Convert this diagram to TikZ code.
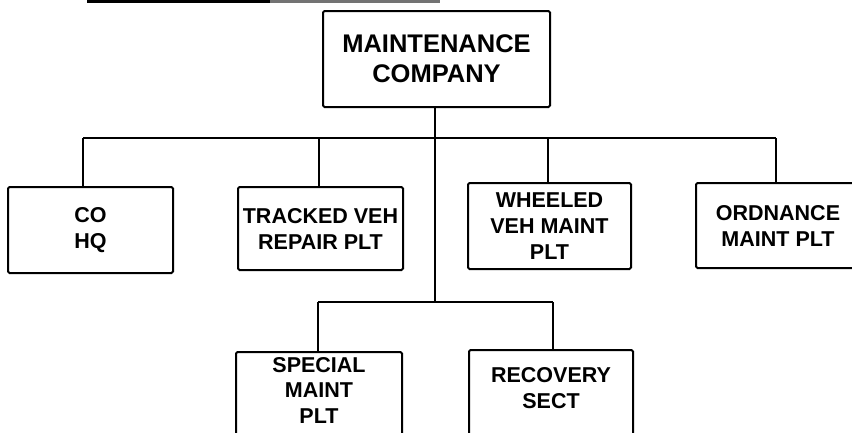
\documentclass[tikz,border=0pt]{standalone}
\usepackage{fontspec}
\setmainfont{Liberation Sans}
\begin{document}
\begin{tikzpicture}[x=1pt,y=1pt,
  box/.style={draw=black, line width=2pt, rounded corners=1.5pt, inner sep=0pt, align=center,
    font=\bfseries\fontsize{21.5}{26}\selectfont},
  bigbox/.style={box, font=\bfseries\fontsize{25.5}{30}\selectfont},
  lbl/.style={inner sep=0pt, align=center, font=\bfseries\fontsize{21.5}{25.5}\selectfont},
  conn/.style={draw=black, line width=1.6pt}]
\useasboundingbox (0,0) rectangle (852,-432);
\clip (0,0) rectangle (852,-432);
% partial bar at top edge
\coordinate (tb1) at (87,-1.5);
\coordinate (tb2) at (270,-1.5);
\coordinate (tb3) at (440,-1.5);
\draw[line width=3pt] (tb1) -- (tb2);
\draw[line width=2.5pt, black!55] (tb2) -- (tb3);
% boxes
\node[bigbox, minimum width=227pt, minimum height=96pt] (mc) at (436.5,-59) {MAINTENANCE\\COMPANY};
\node[box, minimum width=165pt, minimum height=86pt] (co) at (90.5,-230) {CO\\HQ};
\node[box, minimum width=165pt, minimum height=83pt] (tv) at (320.5,-228.5) {TRACKED VEH\\REPAIR PLT};
\node[box, minimum width=163pt, minimum height=86pt] (wv) at (549.5,-226) {WHEELED\\VEH MAINT\\PLT};
\node[box, minimum width=164pt, minimum height=85pt] (om) at (778,-225.5) {ORDNANCE\\MAINT PLT};
\node[box, minimum width=166pt, minimum height=95pt, anchor=north] (sp) at (319,-351) {};
\node[lbl] (spt) at (319,-390) {SPECIAL\\MAINT\\PLT};
\node[box, minimum width=164pt, minimum height=97pt, anchor=north] (rc) at (551,-349) {};
\node[lbl] (rct) at (551,-388) {RECOVERY\\SECT};
% connector points
\coordinate (main) at (435,-138);
\coordinate (b1) at (83,-138);
\coordinate (b2) at (319,-138);
\coordinate (b3) at (548,-138);
\coordinate (b4) at (776,-138);
\coordinate (low) at (435,-302);
\coordinate (l1) at (318,-302);
\coordinate (l2) at (553,-302);
% connectors
\draw[conn] (main |- mc.south) -- (low);
\draw[conn] (b1) -- (b4);
\draw[conn] (b1) -- (b1 |- co.north);
\draw[conn] (b2) -- (b2 |- tv.north);
\draw[conn] (b3) -- (b3 |- wv.north);
\draw[conn] (b4) -- (b4 |- om.north);
\draw[conn] (l1) -- (l2);
\draw[conn] (l1) -- (l1 |- sp.north);
\draw[conn] (l2) -- (l2 |- rc.north);
\end{tikzpicture}
\end{document}
